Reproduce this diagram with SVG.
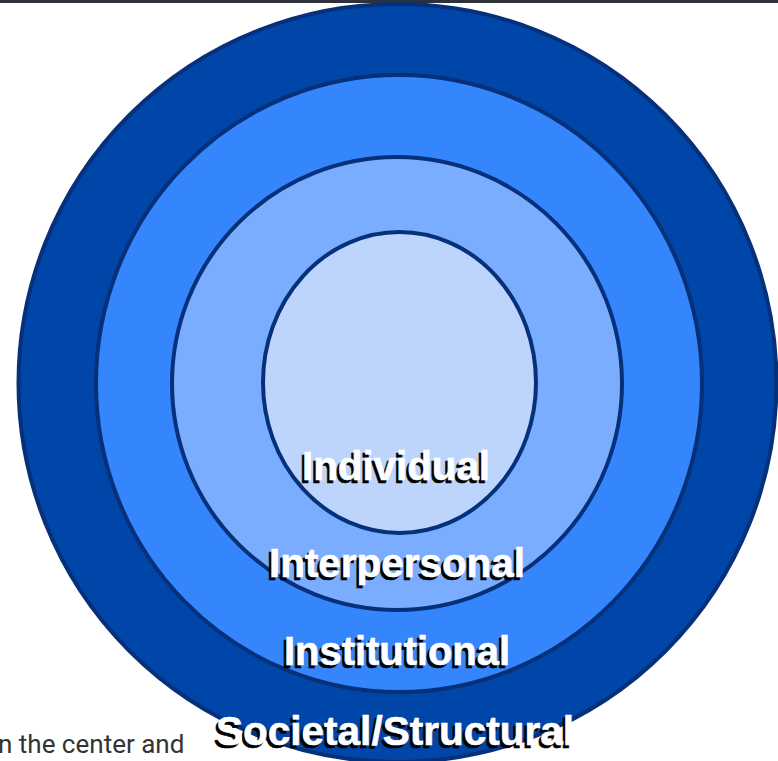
<svg xmlns="http://www.w3.org/2000/svg" width="778" height="761" viewBox="0 0 778 761">
  <style>
    .ring { stroke: #06307a; stroke-width: 4; }
    .lbl { font-family: "Liberation Sans", Arial, sans-serif; font-weight: bold; font-size: 40px; text-anchor: middle; }
    .sh { fill: #000000; stroke: #000000; stroke-width: 0.6; }
    .fg { fill: #ffffff; stroke: #ffffff; stroke-width: 0.6; }
    .body { font-family: Roboto, "Liberation Sans", sans-serif; font-size: 26px; fill: #333333; }
  </style>
  <rect x="0" y="0" width="778" height="761" fill="#ffffff"/>
  <rect x="0" y="0" width="778" height="3" fill="#2c313c"/>
  <g id="societal">
    <ellipse class="ring" cx="397.5" cy="383" rx="379" ry="379" fill="#0045a8"/>
  </g>
  <g id="institutional">
    <ellipse class="ring" cx="399" cy="383.5" rx="303" ry="308.5" fill="#3585fd"/>
  </g>
  <g id="interpersonal">
    <ellipse class="ring" cx="397" cy="383.5" rx="225" ry="226.5" fill="#7aadfd"/>
  </g>
  <g id="individual">
    <ellipse class="ring" cx="399.5" cy="382.5" rx="136.5" ry="150.5" fill="#bdd5fd"/>
  </g>
  <g id="labels">
    <text class="lbl sh" x="393.5" y="482.5" textLength="188" lengthAdjust="spacingAndGlyphs">Individual</text>
    <text class="lbl fg" x="396" y="480" textLength="188" lengthAdjust="spacingAndGlyphs">Individual</text>
    <text class="lbl sh" x="394.5" y="579.5" textLength="256" lengthAdjust="spacingAndGlyphs">Interpersonal</text>
    <text class="lbl fg" x="397" y="577" textLength="256" lengthAdjust="spacingAndGlyphs">Interpersonal</text>
    <text class="lbl sh" x="394.5" y="667.5" textLength="226" lengthAdjust="spacingAndGlyphs">Institutional</text>
    <text class="lbl fg" x="397" y="665" textLength="226" lengthAdjust="spacingAndGlyphs">Institutional</text>
    <text class="lbl sh" x="392.5" y="747.5" textLength="358" lengthAdjust="spacingAndGlyphs">Societal/Structural</text>
    <text class="lbl fg" x="395" y="745" textLength="358" lengthAdjust="spacingAndGlyphs">Societal/Structural</text>
  </g>
  <text class="body" x="-2" y="753">n the center and</text>
</svg>
